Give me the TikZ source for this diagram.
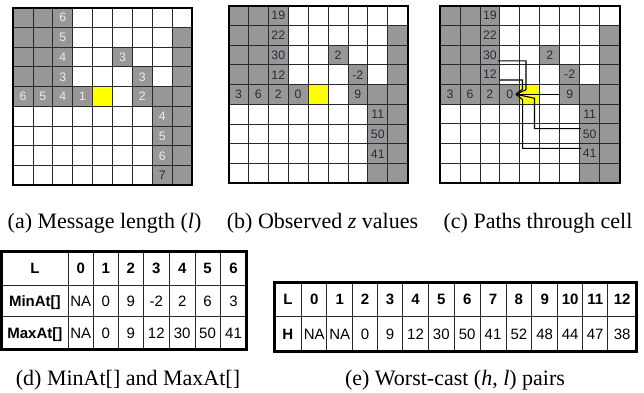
\documentclass[tikz,border=0pt]{standalone}
\usepackage{fontspec}
\setmainfont{Liberation Serif}
\newfontfamily\tabfont{Liberation Sans}
\usetikzlibrary{calc}

\definecolor{cellgray}{RGB}{151,151,151}
\definecolor{gridline}{RGB}{40,40,40}
\definecolor{marker}{RGB}{255,255,0}
\definecolor{lightnum}{RGB}{236,236,236}
\definecolor{darknum}{RGB}{40,44,60}

% shaded cells, marked cell and the grid lines of one 9x9 board
\newcommand\boardbase{%
  \foreach \c/\r in {0/0,1/0,2/0, 0/1,1/1,2/1,8/1, 0/2,1/2,2/2,5/2,8/2,
                     0/3,1/3,2/3,6/3,8/3, 0/4,1/4,2/4,3/4,6/4,7/4,8/4,
                     7/5,8/5,7/6,8/6,7/7,8/7,7/8,8/8}
    {\fill[cellgray] (\c,\r) rectangle ++(1,1);}
  \fill[marker] (4,4) rectangle ++(1,1);
  \foreach \i in {1,...,8}
    {\draw[gridstroke] (\i,0) -- (\i,9); \draw[gridstroke] (0,\i) -- (9,\i);}
  \draw[boardframe] (0,0) rectangle (9,9);
}

\begin{document}
\begin{tikzpicture}[x=1bp,y=-1bp,
  gridstroke/.style={gridline,line width=0.8bp},
  boardframe/.style={black,line width=2bp},
  num/.style={font=\tabfont\fontsize{12.3bp}{14bp}\selectfont,
    minimum width=19.9bp,minimum height=19.75bp,inner sep=0pt,
    text height=8.8bp,text depth=0bp,text=darknum},
  lightn/.style={num,text=lightnum},
  pathline/.style={black,line width=1.1bp},
  tabline/.style={gridline,line width=0.8bp},
  tabframe/.style={black,line width=3bp},
  tabtext/.style={font=\tabfont\fontsize{15bp}{18bp}\selectfont,
    inner sep=0pt,text height=10.7bp,text depth=0bp},
  tabhead/.style={tabtext,font=\tabfont\bfseries\fontsize{15bp}{18bp}\selectfont},
  caption/.style={font=\fontsize{22bp}{25bp}\selectfont,inner sep=0pt,anchor=base}]
\useasboundingbox (0,0) rectangle (644,392);

% (a) message length
\begin{scope}[xshift=13bp,yshift=-7.5bp,x=19.9bp,y=-19.75bp]
  \boardbase
  \foreach \c/\r/\v in {2/0/6,2/1/5,2/2/4,5/2/3,2/3/3,6/3/3,0/4/6,1/4/5,
                        2/4/4,3/4/1,6/4/2,7/5/4,7/6/5,7/7/6}
    {\node[lightn] at (\c+0.5,\r+0.5) {\v};}
  \node[num] (a7) at (7.5,8.5) {7};
\end{scope}

% (b) observed values
\begin{scope}[xshift=228.5bp,yshift=-5.5bp,x=19.9bp,y=-19.75bp]
  \boardbase
  \foreach \c/\r/\v in {2/0/19,2/1/22,2/2/30,5/2/2,2/3/12,6/3/-2,0/4/3,1/4/6,
                        2/4/2,3/4/0,6/4/9,7/5/11,7/6/50,7/7/41}
    {\node[num] at (\c+0.5,\r+0.5) {\v};}
\end{scope}

% (c) paths through the marked cell
\begin{scope}[xshift=440bp,yshift=-5.5bp,x=19.95bp,y=-19.72bp]
  \boardbase
  \foreach \c/\r/\v in {2/0/19,2/1/22,5/2/2,6/3/-2,0/4/3,1/4/6,2/4/2,7/5/11}
    {\node[num] at (\c+0.5,\r+0.5) {\v};}
  \node[num] (c30) at (2.5,2.5) {30};
  \node[num] (c12) at (2.5,3.5) {12};
  \node[num] (c0)  at (3.5,4.5) {0};
  \node[num] (c9)  at (6.5,4.5) {9};
  \node[num] (c50) at (7.5,6.5) {50};
  \node[num] (c41) at (7.5,7.5) {41};
\end{scope}
\coordinate (tip) at ([xshift=-4bp]c0.east);
\draw[pathline] ([xshift=-2.5bp,yshift=-6bp]c30.east) -| ([xshift=10bp,yshift=4.5bp]tip) -- (tip);
\draw[pathline] ([xshift=-0.5bp,yshift=-5.5bp]c12.east) -| ([xshift=6.5bp,yshift=5bp]tip) -- (tip);
\draw[pathline] (c9.west) -- (tip);
\draw[pathline] ([xshift=1.5bp,yshift=5bp]c50.west) -| ([xshift=18.5bp,yshift=-4bp]tip) -- (tip);
\draw[pathline] ([xshift=2bp,yshift=5bp]c41.west) -| ([xshift=6.7bp,yshift=-5.5bp]tip) -- (tip);

% captions of the boards
\node[caption] (capa) at (104.5,228) {(a) Message length (\textit{l})};
\node[caption] (capb) at (322.5,228) {(b) Observed \textit{z} values};
\node[caption] (capc) at (538,228) {(c) Paths through cell};

% (d) MinAt[] and MaxAt[]
\foreach \x in {68.3,93.3,118.3,143.3,169.3,195,220}
  {\draw[tabline] (\x,251.7) -- (\x,349.3);}
\foreach \y in {285,316.7}
  {\draw[tabline] (1.5,\y) -- (246,\y);}
\draw[tabframe] (1.5,251.7) rectangle (246,349.3);
\node[tabhead] (dL) at (34.9,268.3) {L};
\foreach \x/\v in {80.8/0,105.8/1,130.8/2,156.3/3,182.2/4,207.5/5,233.5/6}
  {\node[tabhead] at (\x,268.3) {\v};}
\node[tabhead] (dmin) at (34.9,300.9) {MinAt[]};
\node[tabhead] (dmax) at (34.9,333) {MaxAt[]};
\foreach \x/\a/\b in {80.8/NA/NA,105.8/0/0,130.8/9/9,156.3/-2/12,182.2/2/30,207.5/6/50,233.5/3/41}
  {\node[tabtext] at (\x,300.9) {\a}; \node[tabtext] at (\x,333) {\b};}
\node[caption] (capd) at (128,385) {(d) MinAt[] and MaxAt[]};

% (e) worst-case pairs
\foreach \x in {301.7,326.7,352.7,377.3,402.7,428.3,454.3,480,506,531.7,557.7,582.7,607.7}
  {\draw[tabline] (\x,282.3) -- (\x,351.7);}
\draw[tabline] (274,316.7) -- (636.7,316.7);
\draw[tabframe] (274,282.3) rectangle (636.7,351.7);
\node[tabhead] (eL) at (287.9,299.5) {L};
\node[tabhead] (eH) at (287.9,334.2) {H};
\foreach \x/\l/\h in {314.2/0/NA,339.7/1/NA,365/2/0,390/3/9,415.5/4/12,441.3/5/30,
                      467.2/6/50,493/7/41,518.9/8/52,544.7/9/48,570.2/10/44,595.2/11/47,622.2/12/38}
  {\node[tabhead] at (\x,299.5) {\l}; \node[tabtext] at (\x,334.2) {\h};}
\node[caption] (cape) at (455,385) {(e) Worst-cast (\textit{h}, \textit{l}) pairs};
\end{tikzpicture}
\end{document}
